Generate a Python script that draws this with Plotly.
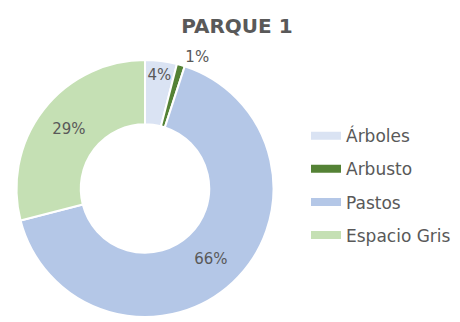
import plotly.graph_objects as go

# Land-use shares for the park
categories = ["Árboles", "Arbusto", "Pastos", "Espacio Gris"]
shares = [4, 1, 66, 29]
colors = ["#DAE3F3", "#548235", "#B4C7E7", "#C5E0B4"]
label_positions = ["inside", "outside", "inside", "inside"]

W, H = 460, 322
TEXT = "#595959"
FONT = "DejaVu Sans"

fig = go.Figure()

fig.add_trace(go.Pie(
    labels=categories,
    values=shares,
    sort=False,
    direction="clockwise",
    rotation=0,
    hole=0.5,
    marker=dict(colors=colors, line=dict(color="white", width=2)),
    texttemplate="%{percent:.0%}",
    textposition=label_positions,
    insidetextorientation="horizontal",
    textfont=dict(family=FONT, size=15, color=TEXT),
    hoverinfo="label+percent",
    showlegend=False,
    domain=dict(x=[14 / W, 276 / W], y=[0, 1 - 61 / H]),
))

# Legend entries drawn as wide colour bars, one group each for even spacing
for i, (name, col) in enumerate(zip(categories, colors)):
    fig.add_trace(go.Scatter(
        x=[None], y=[None], mode="lines", name=name,
        line=dict(color=col, width=8),
        legendgroup=f"g{i}",
        hoverinfo="skip",
    ))

fig.update_layout(
    width=W, height=H,
    margin=dict(l=0, r=0, t=0, b=0),
    paper_bgcolor="white",
    plot_bgcolor="white",
    title=dict(
        text="<b>PARQUE 1</b>",
        x=0.515, xanchor="center",
        y=1 - 26 / H, yanchor="middle", yref="container",
        font=dict(family=FONT, size=20, color=TEXT),
    ),
    xaxis=dict(visible=False),
    yaxis=dict(visible=False),
    legend=dict(
        x=306 / W, xanchor="left",
        y=1 - 120 / H, yanchor="top",
        font=dict(family=FONT, size=17, color=TEXT),
        tracegroupgap=8,
        traceorder="grouped",
        bgcolor="rgba(0,0,0,0)",
    ),
    uniformtext=dict(minsize=15, mode="show"),
)

fig.write_html("out.html")
